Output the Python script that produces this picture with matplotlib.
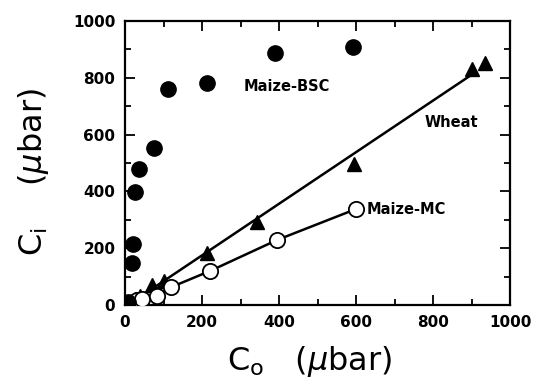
import numpy as np
import matplotlib
matplotlib.use("Agg")
import matplotlib.pyplot as plt
from matplotlib.ticker import MultipleLocator

# Maize bundle-sheath cells (filled circles)
bsc_co = [8, 18, 21, 26, 36, 75, 112, 213, 390, 592]
bsc_ci = [10, 148, 215, 398, 479, 553, 760, 782, 887, 908]

# Maize mesophyll cells (open circles, joined)
mc_co = [10, 20, 32, 45, 83, 120, 221, 395, 600]
mc_ci = [8, 12, 17, 20, 33, 63, 120, 229, 338]

# Wheat (filled triangles)
wheat_co = [12, 25, 40, 70, 100, 213, 343, 595, 901, 935]
wheat_ci = [10, 20, 32, 70, 83, 183, 292, 496, 831, 852]

# Straight-line fit for wheat, drawn over the measured range
wheat_fit_range = [10, 901]

plt.rcParams['font.family'] = ['DejaVu Sans']
plt.rcParams['mathtext.fontset'] = 'dejavusans'

fig = plt.figure(figsize=(5.37, 3.92), dpi=100)
ax = fig.add_axes([0.2328, 0.2219, 0.717, 0.7245])

coef = np.polyfit(wheat_co, wheat_ci, 1)
fx = np.array(wheat_fit_range, dtype=float)
ax.plot(fx, np.polyval(coef, fx), color='black', lw=1.8, zorder=2)
ax.plot(wheat_co, wheat_ci, linestyle='none', marker='^', ms=10,
        color='black', zorder=3)

ax.plot(mc_co, mc_ci, color='black', lw=1.8, marker='o', ms=11,
        mfc='white', mec='black', mew=1.3, zorder=4)

ax.plot(bsc_co, bsc_ci, linestyle='none', marker='o', ms=11,
        color='black', zorder=5)

ax.text(421, 768, 'Maize-BSC', fontsize=10.5, fontweight='bold',
        ha='center', va='center')
ax.text(847, 641, 'Wheat', fontsize=10.5, fontweight='bold',
        ha='center', va='center')
ax.text(628, 338, 'Maize-MC', fontsize=10.5, fontweight='bold',
        ha='left', va='center')

ax.set_xlim(0, 1000)
ax.set_ylim(0, 1000)
ax.xaxis.set_major_locator(MultipleLocator(200))
ax.xaxis.set_minor_locator(MultipleLocator(100))
ax.yaxis.set_major_locator(MultipleLocator(200))
ax.yaxis.set_minor_locator(MultipleLocator(100))
ax.tick_params(which='both', direction='in', top=True, right=True,
               width=1.3, labelsize=11)
ax.tick_params(which='major', length=7.5, pad=7)
ax.tick_params(which='minor', length=4)
for lab in ax.get_xticklabels() + ax.get_yticklabels():
    lab.set_fontweight('bold')
for sp in ax.spines.values():
    sp.set_linewidth(1.6)

ax.set_xlabel(r'$\mathregular{C_o}$   ($\mu$bar)', fontsize=23, labelpad=10)
ax.xaxis.label.set_x(0.48)
ax.set_ylabel(r'$\mathregular{C_i}$    ($\mu$bar)', fontsize=23, labelpad=16)
ax.yaxis.label.set_y(0.47)

fig.savefig('out.png', dpi=100)
